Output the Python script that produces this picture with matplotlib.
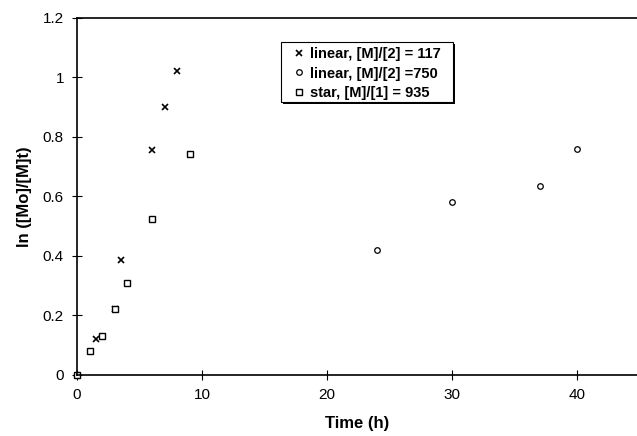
import matplotlib.pyplot as plt
from matplotlib.patches import Rectangle
from matplotlib.ticker import FuncFormatter

plt.rcParams['font.family'] = ['Liberation Sans', 'DejaVu Sans']

# linear, [M]/[2] = 117
t_lin117 = [1.5, 3.0, 3.5, 6.0, 7.0, 8.0]
y_lin117 = [0.12, 0.22, 0.385, 0.755, 0.90, 1.02]

# linear, [M]/[2] = 750
t_lin750 = [0.0, 24.0, 30.0, 37.0, 40.0]
y_lin750 = [0.0, 0.42, 0.58, 0.635, 0.76]

# star, [M]/[1] = 935
t_star = [0.0, 1.0, 2.0, 3.0, 4.0, 6.0, 9.0]
y_star = [0.0, 0.082, 0.132, 0.222, 0.308, 0.525, 0.743]

W, H = 637, 436
fig = plt.figure(figsize=(W / 100, H / 100), dpi=100)
ax = fig.add_axes([0.121, 0.14, 0.879, 0.819])

ax.plot(t_lin117, y_lin117, linestyle='none', marker='x', color='black',
        markersize=4.5, mew=1.2, label='linear, [M]/[2] = 117', clip_on=False)
ax.plot(t_lin750, y_lin750, linestyle='none', marker='o', mfc='white', color='black',
        markersize=4, mew=0.9, label='linear, [M]/[2] =750', clip_on=False)
ax.plot(t_star, y_star, linestyle='none', marker='s', mfc='white', color='black',
        markersize=4.5, mew=1.0, label='star, [M]/[1] = 935', clip_on=False)

ax.set_xlim(0, 44.8)
ax.set_ylim(0, 1.2)
ax.set_xticks([0, 10, 20, 30, 40])
ax.set_yticks([0, 0.2, 0.4, 0.6, 0.8, 1.0, 1.2])
ax.yaxis.set_major_formatter(FuncFormatter(lambda v, p: ('%g' % round(v, 1))))
ax.tick_params(direction='inout', length=7, width=0.8, labelsize=11, pad=6)
ax.spines['right'].set_visible(False)
for s in ['left', 'bottom', 'top']:
    ax.spines[s].set_linewidth(1.2)

ax.set_xlabel('Time (h)', fontsize=12, fontweight='bold', labelpad=10)
ax.set_ylabel('ln ([Mo]/[M]t)', fontsize=12, fontweight='bold', labelpad=8)

# legend box with a shadow, in figure pixels
bx0, by0, bx1, by1 = 281, 42, 453, 102
bw, bh = (bx1 - bx0) / W, (by1 - by0) / H
ax.add_patch(Rectangle(((bx0 + 2) / W, 1 - (by1 + 2) / H), bw, bh,
                       transform=fig.transFigure, facecolor='black',
                       edgecolor='none', zorder=4, clip_on=False))
ax.add_patch(Rectangle((bx0 / W, 1 - by1 / H), bw, bh,
                       transform=fig.transFigure, facecolor='white',
                       edgecolor='black', linewidth=0.8, zorder=5, clip_on=False))

leg = ax.legend(loc='upper left', bbox_to_anchor=(284 / W, 1 - 38 / H),
                bbox_transform=fig.transFigure, frameon=False,
                handletextpad=0.4, handlelength=0.8, borderpad=0.1,
                labelspacing=0.4, prop={'weight': 'bold', 'size': 10.5})
leg.set_zorder(6)

fig.savefig('out.png', dpi=100)
